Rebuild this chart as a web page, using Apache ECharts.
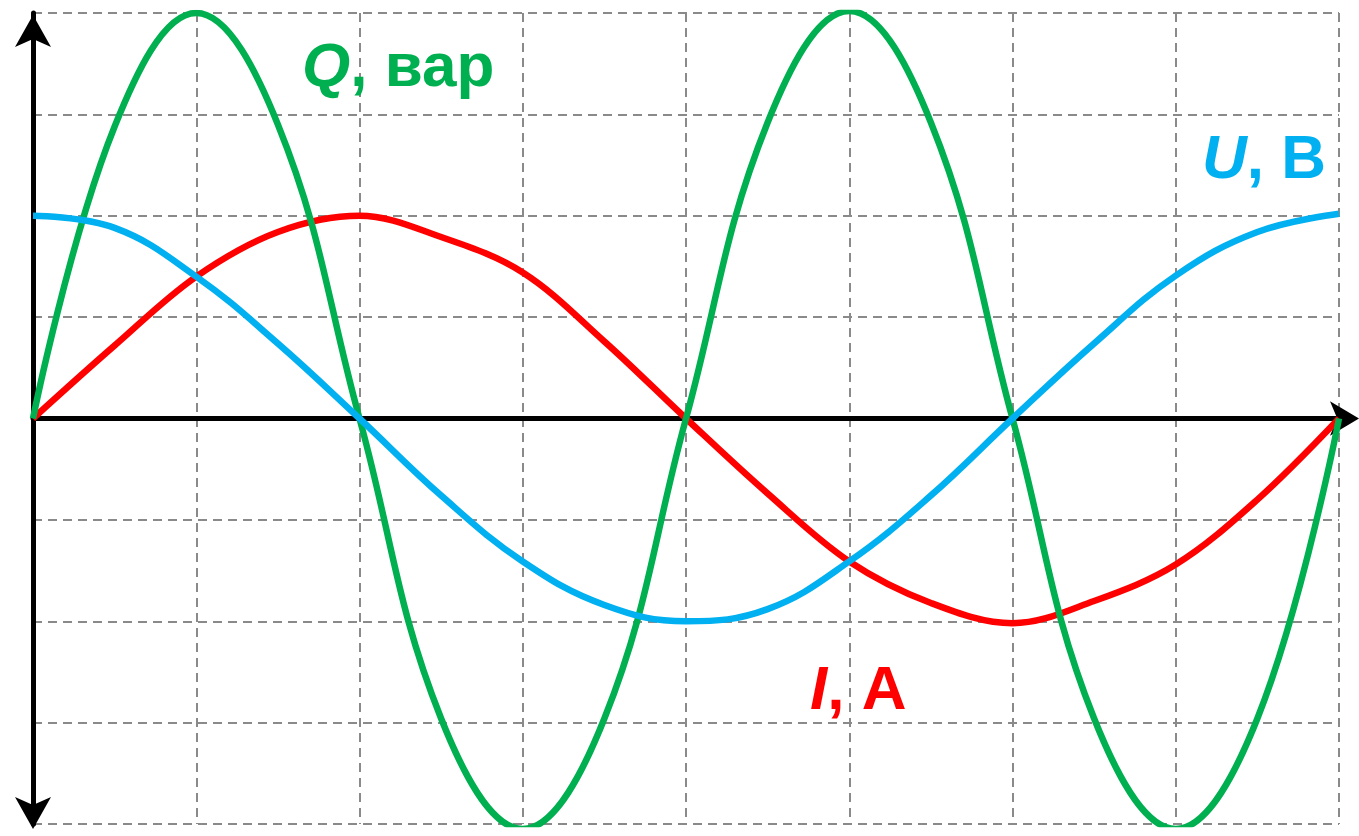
<!DOCTYPE html>
<html>
<head>
<meta charset="utf-8">
<script src="https://cdn.jsdelivr.net/npm/echarts@6/dist/echarts.min.js"></script>
<style>
  html, body { margin: 0; padding: 0; background: #fff; }
  #chart { width: 1359px; height: 836px; }
</style>
</head>
<body>
<div id="chart"></div>
<script>
// time in grid units
const xs = [0, 0.5, 1, 1.5, 2, 2.5, 3, 3.5, 4, 4.5, 5, 5.5, 6, 6.5, 7, 7.5, 8];
// U, В (blue)
const uVals = [2.0, 1.88, 1.40, 0.74, 0, -0.76, -1.41, -1.84, -2.0, -1.88, -1.41, -0.76, 0, 0.74, 1.41, 1.84, 2.02];
// I, A (red)
const iVals = [0, 0.72, 1.40, 1.84, 2.0, 1.79, 1.44, 0.76, 0, -0.74, -1.41, -1.82, -2.02, -1.80, -1.44, -0.80, 0];
// Q, вар (green)
const qVals = [0, 2.88, 4.0, 2.9, 0, -2.96, -4.05, -2.96, 0, 2.92, 4.02, 2.92, 0, -2.96, -4.05, -2.96, 0];

const pairs = (vals) => xs.map((x, i) => [x, vals[i]]);

const chart = echarts.init(document.getElementById("chart"));

const font = "'Liberation Sans', Arial, sans-serif";
const gridLine = { type: [9, 6], color: "#8a8a8a", width: 2 };

function label(x, y, color, italic, rest) {
  return {
    type: "text",
    left: x,
    top: y,
    z: 10,
    style: {
      text: "{a|" + italic + "}{b|" + rest + "}",
      rich: {
        a: { fontSize: 62, fontWeight: "bold", fontStyle: "italic", fontFamily: font, fill: color },
        b: { fontSize: 62, fontWeight: "bold", fontFamily: font, fill: color },
      },
    },
  };
}

chart.setOption({
  animation: false,
  backgroundColor: "#fff",
  grid: { left: 33, right: 20, top: 13, bottom: 12 },
  xAxis: {
    type: "value",
    min: 0,
    max: 8,
    interval: 1,
    axisLabel: { show: false },
    axisTick: { show: false },
    axisLine: {
      show: true,
      symbol: ["none", "arrow"],
      symbolSize: [26, 29],
      symbolOffset: [0, 20],
      lineStyle: { color: "#000", width: 5 },
    },
    splitLine: { show: true, lineStyle: gridLine },
  },
  yAxis: {
    type: "value",
    min: -4,
    max: 4,
    interval: 1,
    axisLabel: { show: false },
    axisTick: { show: false },
    axisLine: {
      show: true,
      symbol: ["arrow", "arrow"],
      symbolSize: [27, 32],
      symbolOffset: [-5, -2],
      lineStyle: { color: "#000", width: 5 },
    },
    splitLine: { show: true, lineStyle: gridLine },
  },
  series: [
    {
      name: "I",
      type: "line",
      data: pairs(iVals),
      smooth: 0.35,
      showSymbol: false,
      lineStyle: { color: "#ff0000", width: 6.5 },
    },
    {
      name: "Q",
      type: "line",
      data: pairs(qVals),
      smooth: 0.4,
      showSymbol: false,
      lineStyle: { color: "#00b050", width: 6.5 },
    },
    {
      name: "U",
      type: "line",
      data: pairs(uVals),
      smooth: 0.4,
      showSymbol: false,
      lineStyle: { color: "#00b0f0", width: 6.5 },
    },
  ],
  graphic: [
    label(302, 38, "#00b050", "Q", ", вар"),
    label(1202, 130, "#00b0f0", "U", ", В"),
    label(810, 661, "#ff0000", "I", ", A"),
  ],
});

window.addEventListener("resize", () => chart.resize());
</script>
</body>
</html>
